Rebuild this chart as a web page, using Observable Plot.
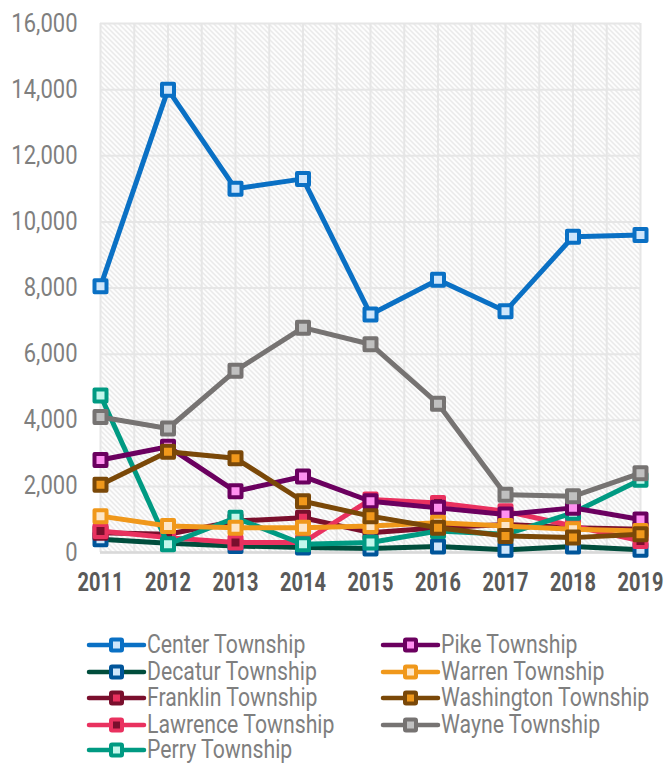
<!DOCTYPE html>
<html><head><meta charset="utf-8">
<script src="https://cdn.jsdelivr.net/npm/d3@7"></script>
<script src="https://cdn.jsdelivr.net/npm/@observablehq/plot@0.6"></script>
<style>
body{margin:0;background:#fff;font-family:Roboto,"Liberation Sans",sans-serif;}
#wrap{position:relative;width:667px;height:763px;overflow:hidden;}
#chart{position:absolute;left:0;top:0;}
.leg{position:absolute;display:flex;align-items:center;font-size:25px;color:#7f7f7f;white-space:nowrap;height:26px;line-height:24px;}
.leg svg{flex:none;}
.leg span{display:inline-block;transform:scaleX(0.85);transform-origin:0 50%;}
</style></head><body><div id="wrap"><div id="chart"></div></div>
<script>
const years = [2011, 2012, 2013, 2014, 2015, 2016, 2017, 2018, 2019];
const seriesNames = ["Center Township", "Decatur Township", "Franklin Township", "Lawrence Township", "Perry Township", "Pike Township", "Warren Township", "Washington Township", "Wayne Township"];
const center     = [8050, 14000, 11000, 11300, 7200, 8250, 7300, 9550, 9600];
const decatur    = [400, 280, 200, 150, 120, 180, 80, 180, 80];
const franklin   = [600, 550, 950, 1050, 600, 750, 850, 750, 700];
const lawrence   = [650, 450, 300, 300, 1600, 1500, 1250, 800, 350];
const perry      = [4750, 250, 1050, 250, 300, 650, 550, 1200, 2200];
const pike       = [2800, 3200, 1850, 2300, 1550, 1350, 1150, 1350, 1000];
const warren     = [1100, 800, 750, 750, 800, 900, 800, 700, 650];
const washington = [2050, 3050, 2850, 1550, 1100, 750, 500, 450, 550];
const wayne      = [4100, 3750, 5500, 6800, 6300, 4500, 1750, 1700, 2400];
const yTicks = [0, 2000, 4000, 6000, 8000, 10000, 12000, 14000, 16000];

const seriesValues = [center, decatur, franklin, lawrence, perry, pike, warren, washington, wayne];
const lineColors   = ["#0a70c4", "#004d3c", "#7a0f2d", "#e9315f", "#009a82", "#6b005f", "#f0981b", "#7a4808", "#767372"];
const markerColors = ["#0a70c4", "#00559a", "#7a0f2d", "#e9315f", "#009a82", "#6b005f", "#f0981b", "#7a4808", "#767372"];
const centerColors = ["#cfe6fb", "#cfe6fb", "#e9315f", "#7a0f2d", "#c2f7ec", "#ff90f0", "#fde6c8", "#f0981b", "#c0c0c0"];

const rows = seriesNames.map((name, i) => years.map((year, j) => ({name, year, value: seriesValues[i][j]})));

const marks = [
  Plot.frame({fill: "url(#hatch)", stroke: null}),
  Plot.gridX(d3.range(2011, 2019.01, 0.5), {stroke: "#e6e6e6", strokeOpacity: 1, strokeWidth: 2}),
  Plot.gridY(yTicks, {stroke: "#e6e6e6", strokeOpacity: 1, strokeWidth: 2}),
  Plot.ruleY([0], {stroke: "#d9d9d9", strokeWidth: 2.5}),
  Plot.axisY(yTicks, {tickSize: 0, tickPadding: 23, tickFormat: d3.format(","), fontSize: 25, color: "#7f7f7f", label: null}),
  Plot.axisX(years, {tickSize: 0, tickPadding: 21, tickFormat: d => String(d), fontSize: 25, fontWeight: "bold", color: "#595959", label: null})
];
rows.forEach((r, i) => {
  marks.push(Plot.line(r, {x: "year", y: "value", stroke: lineColors[i], strokeWidth: 5, strokeLinejoin: "round", strokeLinecap: "round"}));
  marks.push(Plot.dot(r, {x: "year", y: "value", symbol: "square", r: 6.77, stroke: markerColors[i], fill: centerColors[i], strokeWidth: 4, strokeLinejoin: "round"}));
});

const plot = Plot.plot({
  width: 667,
  height: 605,
  marginLeft: 100,
  marginRight: 27,
  marginTop: 23,
  marginBottom: 53,
  style: {fontFamily: 'Roboto,"Liberation Sans",sans-serif', background: "#fff", overflow: "visible"},
  x: {domain: [2011, 2019]},
  y: {domain: [0, 16000]},
  marks
});

const svg = d3.select(plot);
const defs = svg.insert("defs", ":first-child");
const pat = defs.append("pattern").attr("id", "hatch").attr("patternUnits", "userSpaceOnUse").attr("width", 5).attr("height", 5);
pat.append("rect").attr("width", 5).attr("height", 5).attr("fill", "#fff");
pat.append("path").attr("d", "M-1,-1L6,6M-1,4L1,6M4,-1L6,1").attr("stroke", "#dedede").attr("stroke-width", 1.1);
document.getElementById("chart").appendChild(plot);

function condense(sel, f) {
  svg.selectAll(sel).each(function() {
    const l = this.getComputedTextLength();
    this.setAttribute("textLength", l * f);
    this.setAttribute("lengthAdjust", "spacingAndGlyphs");
  });
}
condense('[aria-label="y-axis tick label"] text', 0.88);
condense('[aria-label="x-axis tick label"] text', 0.8);

// legend
const wrap = document.getElementById("wrap");
const legPos = [[86, 632], [86, 659], [86, 685], [86, 712], [86, 737], [380, 632], [380, 659], [380, 685], [380, 712]];
seriesNames.forEach((name, i) => {
  const div = document.createElement("div");
  div.className = "leg";
  div.style.left = legPos[i][0] + "px";
  div.style.top = legPos[i][1] + "px";
  div.innerHTML = `<svg width="61" height="26"><line x1="3" y1="13" x2="58" y2="13" stroke="${lineColors[i]}" stroke-width="4.5" stroke-linecap="round"/><rect x="25" y="7.5" width="11" height="11" rx="1" fill="${centerColors[i]}" stroke="${markerColors[i]}" stroke-width="4"/></svg><span>${name}</span>`;
  wrap.appendChild(div);
});
</script></body></html>
